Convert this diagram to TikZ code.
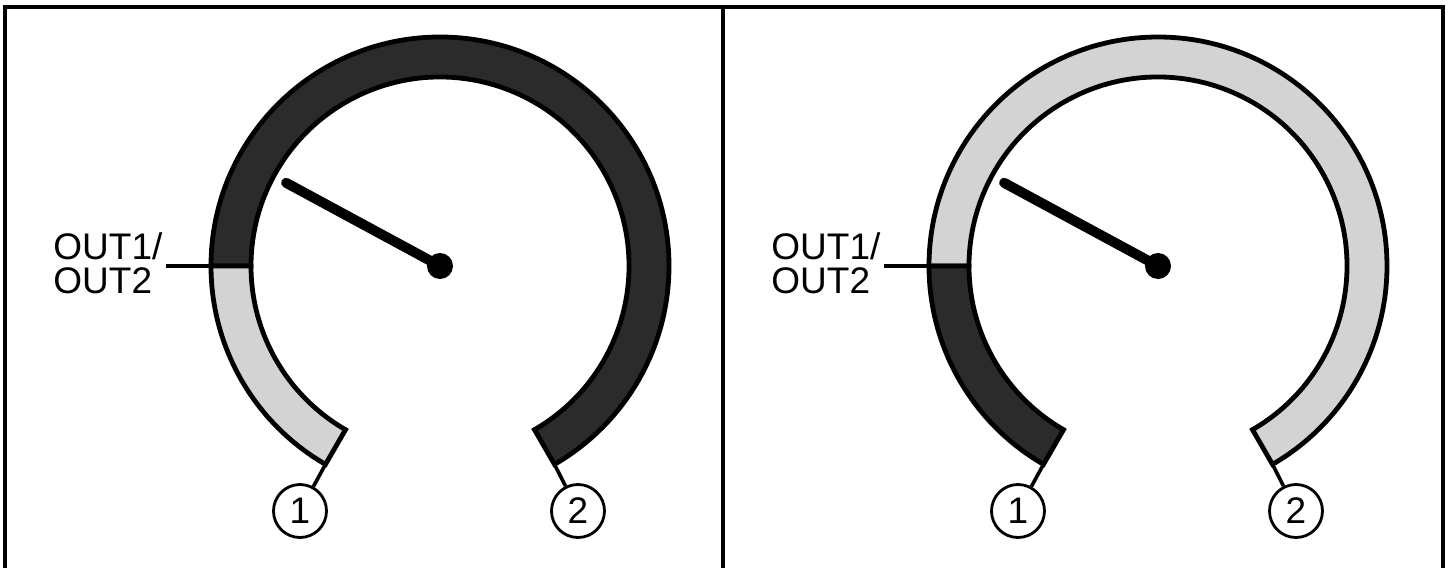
\documentclass[tikz,border=0pt]{standalone}
\usepackage{fontspec}
\setmainfont{Liberation Sans}
\usetikzlibrary{calc}
\definecolor{ringdark}{RGB}{43,43,43}
\definecolor{ringlight}{RGB}{211,211,211}
\begin{document}
\begin{tikzpicture}[x=0.5pt,y=0.5pt,
  frameline/.style={line width=2pt,draw=black},
  ringseg/.style={line width=2.4pt,draw=black,line join=miter},
  needle/.style={line width=5pt,line cap=round},
  leader/.style={line width=1.8pt},
  numcirc/.style={circle,draw,line width=1.4pt,minimum size=26.5pt,inner sep=0pt,
    font=\fontsize{18.5pt}{20pt}\selectfont},
  lab/.style={inner sep=0pt,font=\fontsize{18.5pt}{20pt}\selectfont}]
\useasboundingbox (0,0) rectangle (1448,-568);
% frame
\draw[frameline] (5,-570) -- (5,-7) -- (1443,-7) -- (1443,-570);
\draw[frameline] (723,-7) -- (723,-570);

% ---------- left panel ----------
\coordinate (C1) at (440,-266);
\coordinate (S1) at ($(C1)+(180:229)$);
\coordinate (A1) at ($(C1)+(-120:229)$);
\coordinate (B1) at ($(C1)+(-60:229)$);
\coordinate (L1) at (166,-266);
\coordinate (T1) at ($(C1)+(151.6:175)$);
\draw[ringseg,fill=ringdark] (S1) arc[start angle=180,end angle=-60,radius=229]
  -- ($(C1)+(-60:189)$) arc[start angle=-60,end angle=180,radius=189] -- cycle;
\draw[ringseg,fill=ringlight] (S1) arc[start angle=180,end angle=240,radius=229]
  -- ($(C1)+(240:189)$) arc[start angle=240,end angle=180,radius=189] -- cycle;
\draw[needle] (C1) -- (T1);
\fill (C1) circle[radius=13];
\draw[leader] (L1) -- (S1);
\node[lab,anchor=base west] (o1a) at (53,-259) {OUT1/};
\node[lab,anchor=base west] (o1b) at (53,-293) {OUT2};
\node[numcirc] (n11) at (300,-511) {1};
\node[numcirc] (n12) at (578,-511) {2};
\draw[leader] (A1) -- (n11);
\draw[leader] (B1) -- (n12);

% ---------- right panel ----------
\coordinate (C2) at (1158,-266);
\coordinate (S2) at ($(C2)+(180:229)$);
\coordinate (A2) at ($(C2)+(-120:229)$);
\coordinate (B2) at ($(C2)+(-60:229)$);
\coordinate (L2) at (884,-266);
\coordinate (T2) at ($(C2)+(151.6:175)$);
\draw[ringseg,fill=ringlight] (S2) arc[start angle=180,end angle=-60,radius=229]
  -- ($(C2)+(-60:189)$) arc[start angle=-60,end angle=180,radius=189] -- cycle;
\draw[ringseg,fill=ringdark] (S2) arc[start angle=180,end angle=240,radius=229]
  -- ($(C2)+(240:189)$) arc[start angle=240,end angle=180,radius=189] -- cycle;
\draw[needle] (C2) -- (T2);
\fill (C2) circle[radius=13];
\draw[leader] (L2) -- (S2);
\node[lab,anchor=base west] (o2a) at (771,-259) {OUT1/};
\node[lab,anchor=base west] (o2b) at (771,-293) {OUT2};
\node[numcirc] (n21) at (1018,-511) {1};
\node[numcirc] (n22) at (1296,-511) {2};
\draw[leader] (A2) -- (n21);
\draw[leader] (B2) -- (n22);
\end{tikzpicture}
\end{document}
